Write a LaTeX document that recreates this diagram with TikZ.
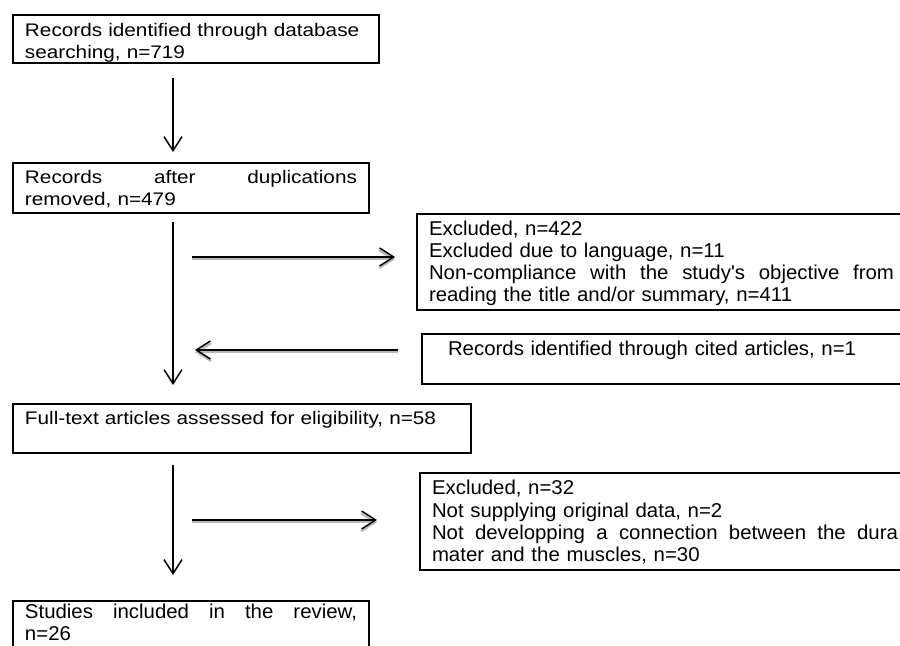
\documentclass[tikz,border=0pt]{standalone}
\usepackage{fontspec}
\setmainfont{Liberation Sans}[FakeStretch=1.14]
\newfontfamily\narrowfont[FakeStretch=1.02]{Liberation Sans}
\usetikzlibrary{arrows.meta}
\newcommand{\fullline}[1]{\leavevmode\hbox to \hsize{\spaceskip=.25em plus 1fil\relax #1}}

\begin{document}
\begin{tikzpicture}[x=0.5pt, y=-0.5pt,
    box/.style={draw, line width=1pt, anchor=north west, inner xsep=6pt, inner ysep=0pt,
        align=left, text height=11pt, font=\fontsize{9.1}{11}\selectfont},
    narrowbox/.style={box, font=\narrowfont\fontsize{10}{11}\selectfont},
    flow/.style={line width=0.75pt, -{Straight Barb[length=7pt, width=9pt]}},
    sideflow/.style={flow, preaction={draw, gray!55, line width=1.1pt, transform canvas={yshift=-1.1pt}}}]
        \useasboundingbox (0,0) rectangle (900,646);
        \clip (0,0) rectangle (900,646);

        % Boxes
        \node[box, text width=171pt, text depth=13pt] (search) at (12,14)
            {Records identified through database\\ searching, n=719};
        \node[box, text width=166pt, text depth=14.5pt, text height=10.5pt] (dedup) at (12,162)
            {\fullline{Records after duplications}\\ removed, n=479};
        \node[narrowbox, text width=232.5pt, text depth=37pt] (excl1) at (416,213)
            {Excluded, n=422\\ Excluded due to language, n=11\\
             \fullline{Non-compliance with the study's objective from}\\
             reading the title and/or summary, n=411};
        \node[narrowbox, inner xsep=13pt, text width=225pt, text depth=14pt] (cited) at (421,333)
            {Records identified through cited articles, n=1\\ \mbox{}};
        \node[box, text width=217pt, text depth=14pt, text height=10.5pt] (fulltext) at (12,403)
            {Full-text articles assessed for eligibility, n=58\\ \mbox{}};
        \node[narrowbox, text width=233pt, text depth=37.5pt] (excl2) at (419,472)
            {Excluded, n=32\\ Not supplying original data, n=2\\
             \fullline{Not developping a connection between the dura}\\
             mater and the muscles, n=30};
        \node[narrowbox, text width=166pt, text depth=21.5pt, text height=8.5pt] (final) at (12,600)
            {\fullline{Studies included in the review,}\\ n=26};

        % Arrows
        \coordinate (spine) at (173,0);
        \coordinate (out1) at (192,257);
        \coordinate (in1) at (195,350);
        \coordinate (out2) at (192,520);

        \draw[flow, shorten <=7pt, shorten >=5pt] (search.south -| spine) -- (dedup.north -| spine);
        \draw[flow, shorten <=4pt, shorten >=9pt] (dedup.south -| spine) -- (fulltext.north -| spine);
        \draw[flow, shorten <=5.5pt, shorten >=12.5pt] (fulltext.south -| spine) -- (final.north -| spine);

        \draw[sideflow, shorten >=10.5pt] (out1) -- (out1 -| excl1.west);
        \draw[sideflow, shorten <=11.5pt] (in1 -| cited.west) -- (in1);
        \draw[sideflow, shorten >=21pt] (out2) -- (out2 -| excl2.west);

        \end{tikzpicture}
\end{document}
